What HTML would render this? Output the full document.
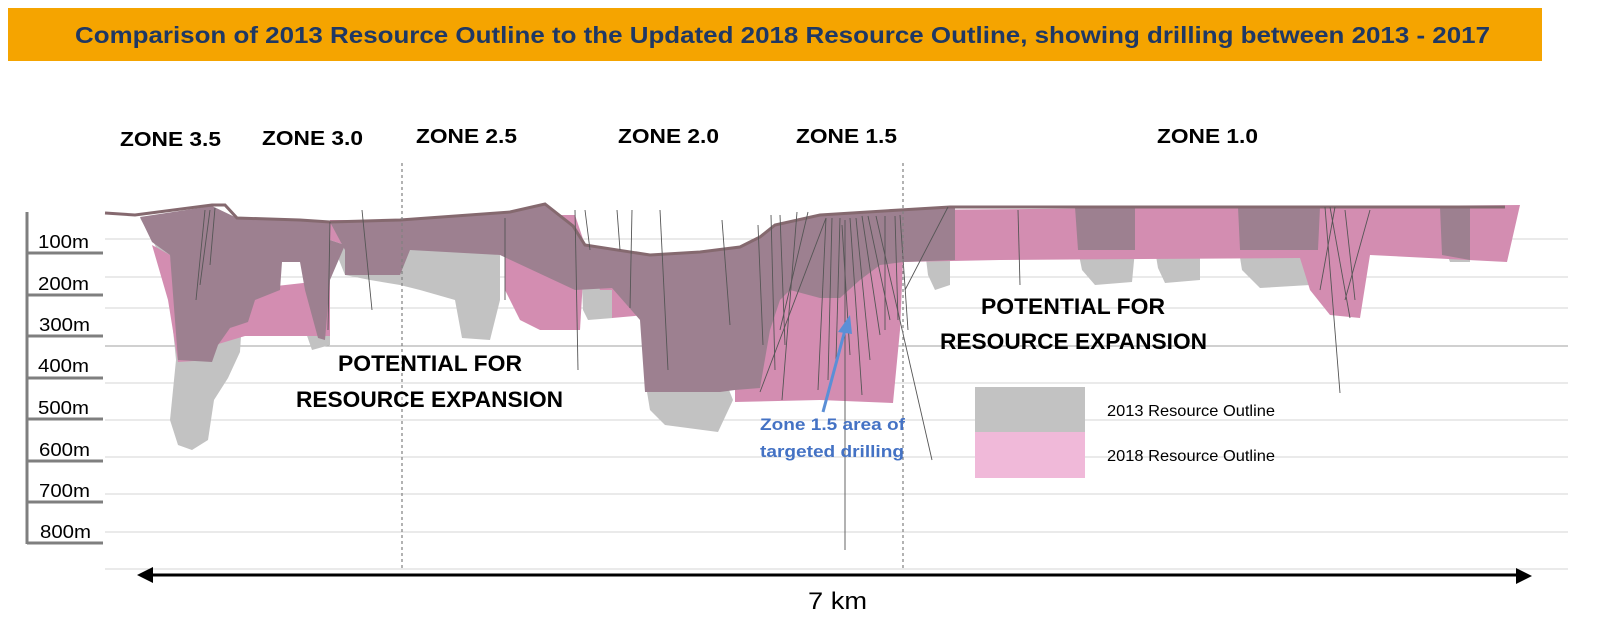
<!DOCTYPE html>
<html><head><meta charset="utf-8"><style>
html,body{margin:0;padding:0;background:#fff;}
svg{display:block;font-family:"Liberation Sans",sans-serif;}
</style></head><body>
<svg width="1599" height="630" viewBox="0 0 1599 630" xmlns="http://www.w3.org/2000/svg">
<rect x="8" y="8" width="1534" height="53" fill="#f5a400"/>
<text x="75" y="43" textLength="1415" lengthAdjust="spacingAndGlyphs" font-size="23" font-weight="bold" fill="#1f3864">Comparison of 2013 Resource Outline to the Updated 2018 Resource Outline, showing drilling between 2013 - 2017</text>

<g font-size="20" font-weight="bold" fill="#000">
<text x="120" y="146" textLength="101" lengthAdjust="spacingAndGlyphs">ZONE 3.5</text>
<text x="262" y="145" textLength="101" lengthAdjust="spacingAndGlyphs">ZONE 3.0</text>
<text x="416" y="143" textLength="101" lengthAdjust="spacingAndGlyphs">ZONE 2.5</text>
<text x="618" y="143" textLength="101" lengthAdjust="spacingAndGlyphs">ZONE 2.0</text>
<text x="796" y="143" textLength="101" lengthAdjust="spacingAndGlyphs">ZONE 1.5</text>
<text x="1157" y="143" textLength="101" lengthAdjust="spacingAndGlyphs">ZONE 1.0</text>
</g>

<!-- grid -->
<g stroke="#d6d6d6" stroke-width="1">
<line x1="105" y1="239" x2="1568" y2="239"/><line x1="105" y1="277" x2="1568" y2="277"/>
<line x1="105" y1="308" x2="1568" y2="308"/><line x1="105" y1="383" x2="1568" y2="383"/>
<line x1="105" y1="420" x2="1568" y2="420"/><line x1="105" y1="457" x2="1568" y2="457"/>
<line x1="105" y1="494" x2="1568" y2="494"/><line x1="105" y1="532" x2="1568" y2="532"/>
<line x1="105" y1="569" x2="1568" y2="569"/>
</g>
<line x1="105" y1="346" x2="1568" y2="346" stroke="#a0a0a0" stroke-width="1"/>

<!-- axis -->
<g stroke="#7f7f7f" stroke-width="3">
<line x1="27" y1="212" x2="27" y2="544"/>
<line x1="27" y1="253" x2="103" y2="253"/><line x1="27" y1="295" x2="103" y2="295"/>
<line x1="27" y1="336" x2="103" y2="336"/><line x1="27" y1="378" x2="103" y2="378"/>
<line x1="27" y1="419" x2="103" y2="419"/><line x1="27" y1="461" x2="103" y2="461"/>
<line x1="27" y1="502" x2="103" y2="502"/><line x1="27" y1="543" x2="103" y2="543"/>
</g>
<g font-size="18" fill="#000">
<text x="38" y="248" textLength="51" lengthAdjust="spacingAndGlyphs">100m</text>
<text x="38" y="290" textLength="51" lengthAdjust="spacingAndGlyphs">200m</text>
<text x="39" y="331" textLength="51" lengthAdjust="spacingAndGlyphs">300m</text>
<text x="38" y="372" textLength="51" lengthAdjust="spacingAndGlyphs">400m</text>
<text x="38" y="414" textLength="51" lengthAdjust="spacingAndGlyphs">500m</text>
<text x="39" y="456" textLength="51" lengthAdjust="spacingAndGlyphs">600m</text>
<text x="39" y="497" textLength="51" lengthAdjust="spacingAndGlyphs">700m</text>
<text x="40" y="538" textLength="51" lengthAdjust="spacingAndGlyphs">800m</text>
</g>

<!-- 2013 gray -->
<g fill="#c2c2c2">
<path d="M140,218 L155,245 L168,280 L176,360 L170,420 L178,445 L192,450 L208,440 L214,400 L228,378 L240,352 L242,320 L232,300 L200,250 Z"/>
<path d="M300,300 L330,300 L330,345 L312,350 L305,330 Z"/>
<path d="M335,250 L405,230 L410,245 L500,255 L500,300 L490,340 L462,338 L455,300 L420,290 L400,285 L370,280 L345,275 Z"/>
<path d="M582,285 L612,285 L613,318 L588,320 L583,310 Z"/>
<path d="M645,380 L725,380 L733,400 L718,432 L665,425 L650,410 Z"/>
<path d="M925,250 L950,250 L950,285 L935,290 L928,275 Z"/>
<path d="M1078,250 L1135,250 L1132,282 L1095,285 L1082,270 Z"/>
<path d="M1155,250 L1200,250 L1200,280 L1165,283 L1158,268 Z"/>
<path d="M1238,245 L1325,245 L1310,285 L1260,288 L1242,270 Z"/>
<path d="M1440,207 L1470,207 L1470,262 L1450,262 L1442,240 Z"/>
</g>

<!-- 2018 pink -->
<g fill="#d38db1">
<path d="M152,245 L170,255 L178,335 L200,336 L225,330 L245,322 L330,318 L328,336 L245,336 L215,345 L210,360 L178,362 L168,300 Z"/>
<path d="M240,290 L330,280 L330,336 L240,336 Z"/>
<path d="M330,220 L400,220 L400,240 L345,245 L330,240 Z"/>
<path d="M505,215 L575,215 L585,245 L580,330 L540,330 L520,320 L505,290 Z"/>
<path d="M585,245 L640,255 L645,315 L612,318 L612,290 L600,290 Z"/>
<path d="M735,300 L760,237 L820,215 L915,212 L903,262 L900,330 L893,403 L820,400 L735,402 Z"/>
<path d="M903,210 L1520,205 L1507,262 L1370,255 L1360,318 L1330,315 L1310,290 L1300,258 L1000,260 L903,262 Z"/>
</g>

<!-- overlap -->
<g fill="#9d8090">
<path d="M140,217 L212,206 L237,218 L330,222 L330,240 L345,245 L330,280 L325,340 L318,338 L305,290 L300,262 L282,262 L280,290 L255,300 L248,322 L230,328 L218,345 L212,362 L178,360 L170,255 L152,242 Z"/>
<path d="M330,222 L400,220 L510,212 L545,204 L573,226 L585,245 L650,255 L700,252 L740,247 L760,237 L775,225 L820,215 L905,210 L955,207 L955,260 L903,262 L880,265 L860,280 L840,298 L820,298 L790,290 L780,300 L770,330 L760,388 L735,390 L720,392 L645,392 L640,320 L612,288 L575,290 L500,255 L410,250 L400,275 L345,275 L345,250 Z"/>
<path d="M1075,207 L1135,207 L1135,250 L1078,250 Z"/>
<path d="M1238,207 L1320,207 L1318,250 L1240,250 Z"/>
<path d="M1440,207 L1470,207 L1470,260 L1442,255 Z"/>
</g>

<!-- surface -->
<polyline fill="none" stroke="#85696f" stroke-width="3" points="105,213 135,215 212,205 225,205 237,218 300,220 330,222 400,220 510,212 545,204 573,226 585,245 650,255 700,252 740,247 760,237 775,225 820,215 900,210 950,207 1000,207 1505,207"/>

<!-- drill holes -->
<g stroke="#555" stroke-width="0.9" fill="none">
<line x1="205" y1="210" x2="196" y2="300"/><line x1="215" y1="208" x2="210" y2="265"/><line x1="210" y1="210" x2="200" y2="285"/>
<line x1="330" y1="222" x2="328" y2="330"/><line x1="362" y1="210" x2="372" y2="310"/>
<line x1="505" y1="218" x2="505" y2="300"/><line x1="575" y1="210" x2="578" y2="370"/>
<line x1="585" y1="210" x2="590" y2="250"/><line x1="617" y1="210" x2="620" y2="250"/><line x1="632" y1="210" x2="630" y2="308"/>
<line x1="660" y1="210" x2="668" y2="370"/><line x1="722" y1="220" x2="730" y2="325"/><line x1="758" y1="225" x2="763" y2="345"/>
<line x1="771" y1="215" x2="775" y2="370"/><line x1="780" y1="215" x2="785" y2="345"/><line x1="797" y1="212" x2="782" y2="400"/>
<line x1="808" y1="212" x2="780" y2="330"/><line x1="826" y1="218" x2="760" y2="392"/><line x1="826" y1="218" x2="818" y2="390"/>
<line x1="832" y1="218" x2="828" y2="380"/><line x1="840" y1="218" x2="836" y2="360"/><line x1="845" y1="220" x2="845" y2="550"/>
<line x1="850" y1="218" x2="862" y2="395"/><line x1="856" y1="218" x2="870" y2="360"/><line x1="862" y1="216" x2="880" y2="335"/>
<line x1="868" y1="216" x2="890" y2="320"/><line x1="876" y1="216" x2="932" y2="460"/><line x1="885" y1="216" x2="885" y2="330"/>
<line x1="895" y1="216" x2="898" y2="320"/><line x1="900" y1="215" x2="908" y2="330"/><line x1="842" y1="225" x2="850" y2="355"/>
<line x1="948" y1="207" x2="905" y2="290"/><line x1="1018" y1="210" x2="1020" y2="285"/>
<line x1="1325" y1="207" x2="1340" y2="393"/><line x1="1330" y1="207" x2="1350" y2="318"/><line x1="1335" y1="207" x2="1320" y2="290"/><line x1="1345" y1="210" x2="1355" y2="300"/><line x1="1370" y1="210" x2="1345" y2="300"/>
</g>

<!-- dashed zone dividers -->
<g stroke="#808080" stroke-width="1.2" stroke-dasharray="3,3">
<line x1="402" y1="163" x2="402" y2="568"/><line x1="903" y1="163" x2="903" y2="568"/>
</g>

<!-- text -->
<g font-size="22" font-weight="bold" fill="#000">
<text x="338" y="371" textLength="184" lengthAdjust="spacingAndGlyphs">POTENTIAL FOR</text>
<text x="296" y="407" textLength="267" lengthAdjust="spacingAndGlyphs">RESOURCE EXPANSION</text>
<text x="981" y="314" textLength="184" lengthAdjust="spacingAndGlyphs">POTENTIAL FOR</text>
<text x="940" y="349" textLength="267" lengthAdjust="spacingAndGlyphs">RESOURCE EXPANSION</text>
</g>
<line x1="823" y1="412" x2="845" y2="330" stroke="#5b8fd6" stroke-width="3"/>
<polygon points="850,315 838,332 852,334" fill="#5b8fd6"/>
<g font-size="17" font-weight="bold" fill="#4472c4">
<text x="760" y="430" textLength="145" lengthAdjust="spacingAndGlyphs">Zone 1.5 area of</text>
<text x="760" y="457" textLength="144" lengthAdjust="spacingAndGlyphs">targeted drilling</text>
</g>

<!-- legend -->
<rect x="975" y="387" width="110" height="45" fill="#c2c2c2"/>
<rect x="975" y="432" width="110" height="46" fill="#f0b9d9"/>
<g font-size="16" fill="#000">
<text x="1107" y="416" textLength="168" lengthAdjust="spacingAndGlyphs">2013 Resource Outline</text>
<text x="1107" y="461" textLength="168" lengthAdjust="spacingAndGlyphs">2018 Resource Outline</text></g>

<!-- scale arrow -->
<line x1="150" y1="575" x2="1518" y2="575" stroke="#000" stroke-width="3"/>
<polygon points="137,575 153,567 153,583" fill="#000"/>
<polygon points="1532,576 1516,568 1516,584" fill="#000"/>
<text x="808" y="609" font-size="24" textLength="59" lengthAdjust="spacingAndGlyphs" fill="#000">7 km</text>
</svg>
</body></html>
